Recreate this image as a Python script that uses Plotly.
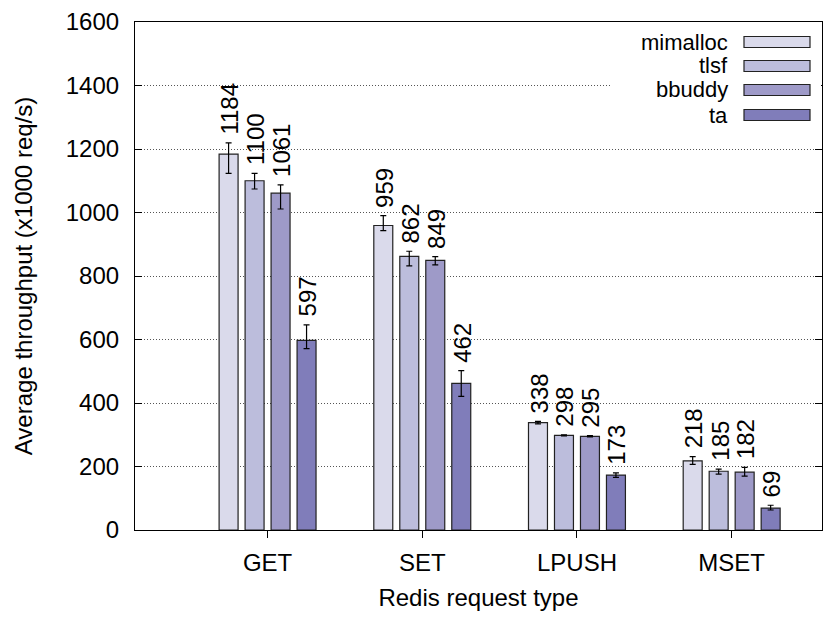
import plotly.graph_objects as go

categories = ["GET", "SET", "LPUSH", "MSET"]
series = ["mimalloc", "tlsf", "bbuddy", "ta"]
values = {
    "mimalloc": [1184, 959, 338, 218],
    "tlsf": [1100, 862, 298, 185],
    "bbuddy": [1061, 849, 295, 182],
    "ta": [597, 462, 173, 69],
}
err_plus = {
    "mimalloc": [35, 31, 4, 13],
    "tlsf": [23, 16, 2, 7],
    "bbuddy": [26, 12, 2, 15],
    "ta": [49, 40, 7, 9],
}
err_minus = {
    "mimalloc": [61, 16, 4, 11],
    "tlsf": [26, 30, 2, 9],
    "bbuddy": [50, 14, 2, 12],
    "ta": [26, 41, 7, 6],
}
colors = ["#dadaeb", "#bcbddc", "#9e9ac8", "#807dba"]

FONT = "Liberation Sans, Arial, Helvetica, sans-serif"
FS = 24
LFS = 22

W, H = 830, 618
ML, MR, MT, MB = 135, 8, 22, 88
XR = [-0.857, 3.584]
BARGAP = 0.328
GROUPGAP = 0.27

fig = go.Figure()
for i, s in enumerate(series):
    fig.add_trace(go.Bar(
        x=categories, y=values[s], name=s,
        marker=dict(color=colors[i], line=dict(color="#222", width=1.2)),
        error_y=dict(type="data", symmetric=False, array=err_plus[s],
                     arrayminus=err_minus[s], color="black", thickness=1.2, width=3),
        showlegend=False,
    ))

# value labels above error bars
plot_w = W - ML - MR
plot_h = H - MT - MB
px_per_unit = plot_w / (XR[1] - XR[0])
slot = (1 - BARGAP) / len(series)
for i, s in enumerate(series):
    off = (-(1 - BARGAP) / 2 + slot * (i + 0.5)) * px_per_unit
    for j, c in enumerate(categories):
        fig.add_annotation(
            x=c, y=values[s][j] + err_plus[s][j], xref="x", yref="y",
            text=str(values[s][j]), showarrow=False, textangle=-90,
            xanchor="center", yanchor="bottom", xshift=off + 1, yshift=6,
            font=dict(family=FONT, size=FS, color="black"),
        )

# legend (gnuplot style: text then sample box)
fig.add_shape(type="rect", xref="paper", yref="paper",
              x0=(612 - ML) / plot_w, x1=(821 - ML) / plot_w,
              y0=1 - (130 - MT) / plot_h, y1=1 - (24 - MT) / plot_h,
              fillcolor="white", line=dict(width=0), layer="above")
rows = [42, 66, 90, 115]
for i, s in enumerate(series):
    yc = 1 - (rows[i] - MT) / plot_h
    fig.add_annotation(
        x=(729 - ML) / plot_w, y=yc, xref="paper", yref="paper",
        text=s, showarrow=False, xanchor="right", yanchor="middle",
        borderpad=0,
        font=dict(family=FONT, size=LFS, color="black"),
    )
    fig.add_shape(type="rect", xref="paper", yref="paper",
                  x0=(744 - ML) / plot_w, x1=(810 - ML) / plot_w,
                  y0=yc - 5.5 / plot_h, y1=yc + 5.5 / plot_h,
                  fillcolor=colors[i], line=dict(color="#222", width=1.2), layer="above")

fig.update_layout(
    width=W, height=H,
    margin=dict(l=ML, r=MR, t=MT, b=MB),
    paper_bgcolor="white", plot_bgcolor="white",
    barmode="group", bargap=BARGAP, bargroupgap=GROUPGAP,
    font=dict(family=FONT, size=FS, color="black"),
)
fig.update_xaxes(
    type="category", range=XR,
    showline=True, linecolor="black", linewidth=1.2, mirror=True,
    ticks="outside", ticklen=7, tickcolor="black",
    ticklabelstandoff=4,
    title=dict(text="Redis request type", font=dict(family=FONT, size=FS), standoff=14),
    showgrid=False,
)
fig.update_yaxes(
    range=[0, 1600], dtick=200,
    showline=True, linecolor="black", linewidth=1.2, mirror="ticks",
    ticks="inside", ticklen=7, tickcolor="black",
    ticklabelstandoff=10,
    showgrid=True, gridcolor="#555", griddash="1px,2px", gridwidth=1,
    zeroline=False,
    title=dict(text="Average throughput (x1000 req/s)", font=dict(family=FONT, size=FS), standoff=26),
)

fig.write_html("out.html")
